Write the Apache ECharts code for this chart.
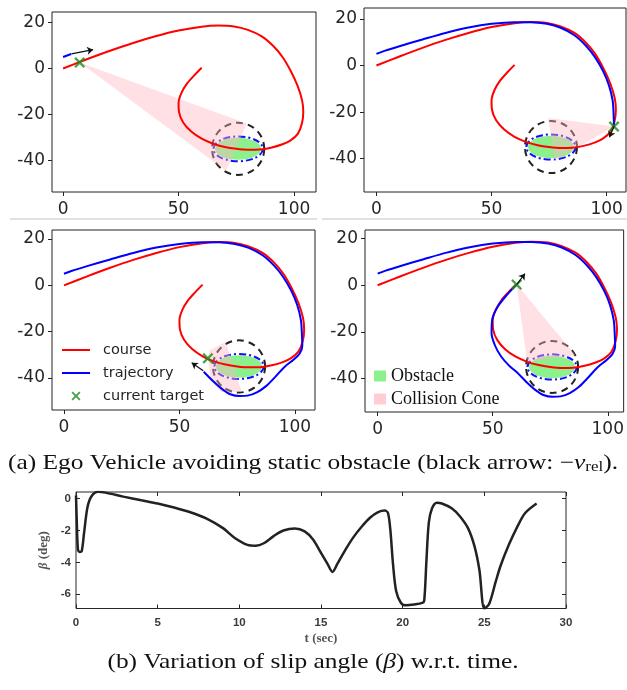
<!DOCTYPE html>
<html>
<head>
<meta charset="utf-8">
<script src="https://cdn.jsdelivr.net/npm/echarts@6/dist/echarts.min.js"></script>
<style>
  html, body { margin: 0; padding: 0; background: #fff; }
  #chart { width: 627px; height: 690px; }
</style>
</head>
<body>
<div id="chart"></div>
<script>
// reference course (x, y in m)
const course = [
  [0, 0], [10, 3.9], [20, 7.6], [30, 11], [40, 14], [50, 16.5], [60, 18.2], [67, 18.7],
  [74, 18.3], [80, 16.8], [86, 14], [91, 9.8], [95, 5], [98.5, -1], [101.5, -7.5],
  [103.5, -14], [104, -19], [103.4, -24], [101.6, -28.5], [98.5, -31.3], [95, -33],
  [90, -34.5], [85, -35.3], [80, -35.4], [75, -35], [70, -34.2], [65, -32.8], [60, -30.6],
  [55.5, -27.5], [52, -23.5], [50.2, -19], [50, -15], [51.3, -10.5], [53.7, -6.5],
  [56.8, -3], [60, 0.3]
];

// driven trajectory, each panel shows the first N points
const trajectory = [
  [0, 5], [3.5, 6.3], [10, 8.3], [20, 11.2], [30, 14], [40, 16.3], [50, 17.9], [60, 18.6],
  [67, 18.6], [74, 17.9], [80, 16.2], [86, 13], [91, 8.5], [95, 3.5], [98.5, -2.5],
  [101, -8.5], [102.6, -15], [103, -20.5], [103.2, -26.2], [102, -29.5], [99.5, -32],
  [95.5, -35.2], [91.5, -39.5], [87.5, -43.5], [83.5, -46.2], [79.5, -47.6], [76, -47.8],
  [72, -47], [68.5, -44.8], [64.5, -41.3], [60.5, -37.3], [57, -34.3], [53.5, -30.3],
  [51, -25.8], [49.5, -20.5], [49.8, -14.5], [52.3, -9], [56, -4.3], [60.4, 0.3]
];
const trajectoryCounts = [2, 19, 31, 39];

const targets = [[7.2, 2.6], [103.2, -26.2], [62.3, -31.5], [60.4, 0.3]];
const arrows = [
  [[3.6, 6.4], [13, 8.2]],
  [[103.2, -26.2], [101.2, -30.8]],
  [[60.3, -36.9], [55.3, -33.4]],
  [[60.4, 0.3], [64, 5]]
];
const cones = [
  [[7.2, 2.6], [79.5, -24], [70.5, -44.5]],
  [[103.2, -26.2], [74.5, -22.5], [77.5, -40.5]],
  [[62.3, -31.5], [63, -28], [70, -24.5], [77, -46], [68, -46], [63.5, -41]],
  [[60.4, 0.3], [65, -33], [86, -30]]
];

const obstacleCenter = [75.8, -35];
const obstacleAxes = [10, 4.8];
const boundaryAxes = [10.7, 5.4];
const safeRadius = 11.3;

const xTicks = [0, 50, 100];
const yTicks = [-40, -20, 0, 20];

// slip angle (t in sec, beta in deg)
const slipAngle = [
  [0, 0.2], [0.05, -1.5], [0.12, -3.2], [0.22, -3.35], [0.35, -3.3], [0.5, -2.1],
  [0.7, -0.55], [0.95, 0.15], [1.35, 0.43], [1.8, 0.38], [2.9, 0.13], [4, -0.1],
  [5, -0.3], [6, -0.55], [7, -0.85], [8, -1.25], [9, -1.85], [9.7, -2.45], [10.5, -2.9],
  [11, -2.95], [11.5, -2.8], [12.1, -2.35], [12.7, -2.0], [13.4, -1.87], [14, -2.05],
  [14.5, -2.55], [15, -3.4], [15.4, -4.1], [15.7, -4.6], [16, -4.1], [16.5, -3.2],
  [17, -2.4], [17.5, -1.75], [18, -1.2], [18.5, -0.85], [18.9, -0.75], [19.1, -0.9],
  [19.25, -2], [19.4, -4], [19.6, -5.8], [19.9, -6.55], [20.2, -6.7], [20.7, -6.65],
  [21.2, -6.55], [21.32, -6.4], [21.45, -4], [21.6, -1.5], [21.8, -0.6], [22.1, -0.25],
  [22.4, -0.3], [23, -0.6], [23.5, -1.1], [24, -1.85], [24.4, -3], [24.7, -4.5],
  [25, -6.9], [25.3, -6.6], [25.7, -5.2], [26, -4.2], [26.5, -2.9], [27, -1.8],
  [27.5, -0.9], [28.2, -0.3]
];
const betaTicks = [-6, -4, -2, 0];

// layout of the four trajectory panels (equal aspect)
const boxes = [
  { left: 52, top: 12, width: 264, height: 180 },
  { left: 364, top: 8, width: 262, height: 184 },
  { left: 52, top: 230, width: 263, height: 180 },
  { left: 365, top: 230, width: 261, height: 182 }
];
const xRanges = [[-4.8, 109.5], [-5.4, 108.4], [-5.2, 108.7], [-5.5, 106.9]];
const yRanges = [[-53.8, 24.6], [-54.3, 24.7], [-53.8, 23.9], [-54.3, 23.7]];

const crossIcon = 'path://M0,1.5L1.5,0L5,3.5L8.5,0L10,1.5L6.5,5L10,8.5L8.5,10L5,6.5L1.5,10L0,8.5L3.5,5Z';
const lineIcon = 'path://M0,0H28V2H0Z';
const tickFont = { fontFamily: 'DejaVu Sans', fontSize: 17, color: '#262626' };

const chart = echarts.init(document.getElementById('chart'), null, { renderer: 'canvas' });

const grid = [];
const xAxis = [];
const yAxis = [];
const series = [];

boxes.forEach((b, p) => {
  grid.push(Object.assign({ show: true, borderColor: '#222', borderWidth: 1, backgroundColor: '#fff' }, b));
  xAxis.push({
    gridIndex: p, type: 'value', min: xRanges[p][0], max: xRanges[p][1],
    axisLine: { show: false, onZero: false },
    axisTick: { show: true, length: 4, customValues: xTicks, lineStyle: { color: '#222' } },
    axisLabel: Object.assign({ customValues: xTicks, margin: 9 }, tickFont),
    splitLine: { show: false }
  });
  yAxis.push({
    gridIndex: p, type: 'value', min: yRanges[p][0], max: yRanges[p][1],
    axisLine: { show: false, onZero: false },
    axisTick: { show: true, length: 4, customValues: yTicks, lineStyle: { color: '#222' } },
    axisLabel: Object.assign({ customValues: yTicks, margin: 7 }, tickFont),
    splitLine: { show: false }
  });

  series.push({
    type: 'custom', name: 'Obstacle', xAxisIndex: p, yAxisIndex: p, silent: true, z: 1,
    data: [obstacleCenter], encode: { x: 0, y: 1 },
    renderItem: (params, api) => {
      const c = api.coord(obstacleCenter);
      const s = api.size(obstacleAxes);
      return { type: 'ellipse', shape: { cx: c[0], cy: c[1], rx: s[0], ry: s[1] }, style: { fill: '#8cf08c' } };
    }
  });
  series.push({
    type: 'custom', name: 'boundary', xAxisIndex: p, yAxisIndex: p, silent: true, z: 2,
    data: [obstacleCenter], encode: { x: 0, y: 1 },
    renderItem: (params, api) => {
      const c = api.coord(obstacleCenter);
      const e = api.size(boundaryAxes);
      const r = api.size([safeRadius, safeRadius]);
      return {
        type: 'group',
        children: [
          { type: 'ellipse', shape: { cx: c[0], cy: c[1], rx: e[0], ry: e[1] },
            style: { fill: null, stroke: '#1010ff', lineWidth: 2, lineDash: [7, 3, 2, 3] } },
          { type: 'circle', shape: { cx: c[0], cy: c[1], r: r[0] },
            style: { fill: null, stroke: '#222', lineWidth: 2, lineDash: [7, 5] } }
        ]
      };
    }
  });
  series.push({
    type: 'custom', name: 'Collision Cone', xAxisIndex: p, yAxisIndex: p, silent: true, z: 3,
    data: [cones[p][0]], encode: { x: 0, y: 1 },
    renderItem: (params, api) => ({
      type: 'polygon',
      shape: { points: cones[p].map(pt => api.coord(pt)) },
      style: { fill: 'rgba(255,180,192,0.42)' }
    })
  });
  series.push({
    type: 'line', name: 'course', xAxisIndex: p, yAxisIndex: p, z: 4,
    data: course, symbol: 'none', smooth: 0.3, silent: true,
    lineStyle: { color: '#ff0000', width: 2 }, itemStyle: { color: '#ff0000' }
  });
  series.push({
    type: 'line', name: 'trajectory', xAxisIndex: p, yAxisIndex: p, z: 5,
    data: trajectory.slice(0, trajectoryCounts[p]), symbol: 'none', smooth: 0.3, silent: true,
    lineStyle: { color: '#0000ff', width: 2 }, itemStyle: { color: '#0000ff' }
  });
  series.push({
    type: 'scatter', name: 'current target', xAxisIndex: p, yAxisIndex: p, z: 6,
    data: [targets[p]], symbol: crossIcon, symbolSize: 11, silent: true,
    itemStyle: { color: '#1a8c1a' }
  });
  series.push({
    type: 'lines', name: 'arrow', coordinateSystem: 'cartesian2d', xAxisIndex: p, yAxisIndex: p, z: 7,
    data: [{ coords: arrows[p] }], symbol: ['none', 'arrow'], symbolSize: 6, silent: true,
    lineStyle: { color: '#111', width: 1.2, opacity: 1, curveness: 0 }
  });
});

// slip angle panel
grid.push({ left: 76, top: 492, width: 490, height: 116.5, show: true, borderColor: '#262626', borderWidth: 1 });
const betaLabel = { fontFamily: 'Liberation Sans', fontWeight: 'bold', fontSize: 11.5, color: '#3a3a3a' };
xAxis.push({
  gridIndex: 4, type: 'value', min: 0, max: 30, interval: 5,
  axisLine: { show: false, onZero: false },
  axisTick: { inside: true, length: 4, lineStyle: { color: '#262626' } },
  axisLabel: Object.assign({ margin: 8 }, betaLabel),
  splitLine: { show: false },
  name: 't (sec)', nameLocation: 'middle', nameGap: 24,
  nameTextStyle: { fontFamily: 'Liberation Serif', fontWeight: 'bold', fontSize: 13, color: '#555' }
});
xAxis.push({
  gridIndex: 4, type: 'value', position: 'top', min: 0, max: 30, interval: 5,
  axisLine: { show: false, onZero: false }, axisLabel: { show: false }, splitLine: { show: false },
  axisTick: { inside: true, length: 4, lineStyle: { color: '#262626' } }
});
yAxis.push({
  gridIndex: 4, type: 'value', min: -6.9, max: 0.42,
  axisLine: { show: false, onZero: false },
  axisTick: { inside: true, length: 4, customValues: betaTicks, lineStyle: { color: '#262626' } },
  axisLabel: Object.assign({ customValues: betaTicks, margin: 5 }, betaLabel),
  splitLine: { show: false },
  name: '{it|β} (deg)', nameLocation: 'middle', nameGap: 22, nameRotate: 90,
  nameTextStyle: {
    fontFamily: 'Liberation Serif', fontWeight: 'bold', fontSize: 13, color: '#555',
    rich: { it: { fontFamily: 'Liberation Serif', fontStyle: 'italic', fontSize: 13, color: '#555' } }
  }
});
yAxis.push({
  gridIndex: 4, type: 'value', position: 'right', min: -6.9, max: 0.42,
  axisLine: { show: false, onZero: false }, axisLabel: { show: false }, splitLine: { show: false },
  axisTick: { inside: true, length: 4, customValues: betaTicks, lineStyle: { color: '#262626' } }
});
series.push({
  type: 'line', name: 'beta', xAxisIndex: 4, yAxisIndex: 4, data: slipAngle,
  symbol: 'none', smooth: 0.3, silent: true,
  lineStyle: { color: '#222', width: 2.5 }
});

// captions: the source figure is stretched horizontally
const captionRich = {
  it: { font: 'italic 21px "Liberation Serif"', fill: '#111' },
  sub: { font: '14px "Liberation Serif"', fill: '#111', padding: [9, 0, 0, 0] }
};
function caption(text, y) {
  return {
    type: 'text', x: 313, y: y, scaleX: 1.21,
    style: {
      text: text, font: '21px "Liberation Serif"', fill: '#111',
      align: 'center', verticalAlign: 'middle', rich: captionRich
    }
  };
}

chart.setOption({
  animation: false,
  backgroundColor: '#fff',
  legend: [
    {
      orient: 'vertical', left: 62, top: 342, padding: 0, itemWidth: 28, itemHeight: 9, itemGap: 7,
      selectedMode: false,
      data: [
        { name: 'course', icon: lineIcon },
        { name: 'trajectory', icon: lineIcon },
        { name: 'current target', icon: crossIcon }
      ],
      textStyle: { fontFamily: 'DejaVu Sans', fontSize: 14.5, color: '#262626', lineHeight: 16, padding: [0, 0, 0, 8] }
    },
    {
      orient: 'vertical', left: 374, top: 367, padding: 0, itemWidth: 12, itemHeight: 11, itemGap: 5,
      selectedMode: false,
      data: [
        { name: 'Obstacle', icon: 'rect', itemStyle: { color: '#8cf08c' } },
        { name: 'Collision Cone', icon: 'rect', itemStyle: { color: '#ffcdd3' } }
      ],
      textStyle: { fontFamily: 'Liberation Serif', fontSize: 18, color: '#111', lineHeight: 17 }
    }
  ],
  graphic: [
    { type: 'line', shape: { x1: 10, y1: 219, x2: 317, y2: 219 }, style: { stroke: '#c4c4c4', lineWidth: 1 } },
    { type: 'line', shape: { x1: 322, y1: 219, x2: 627, y2: 219 }, style: { stroke: '#c4c4c4', lineWidth: 1 } },
    caption('(a) Ego Vehicle avoiding static obstacle (black arrow: −{it|v}{sub|rel}).', 463),
    caption('(b) Variation of slip angle ({it|β}) w.r.t. time.', 662)
  ],
  grid, xAxis, yAxis, series
});

window.addEventListener('resize', () => chart.resize());
</script>
</body>
</html>
